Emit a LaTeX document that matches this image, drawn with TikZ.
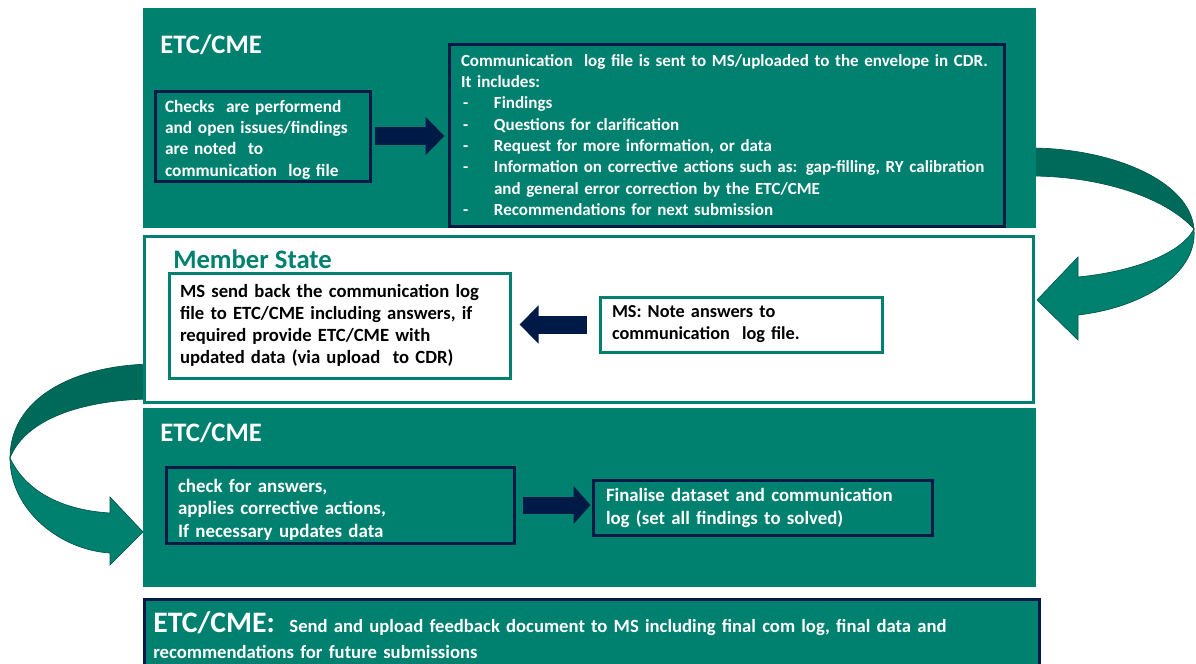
\documentclass[tikz,border=0pt]{standalone}
\usepackage{fontspec}
\setmainfont{Carlito}
\usetikzlibrary{arrows.meta}
\definecolor{teal1}{RGB}{0,128,111}
\definecolor{tealdark}{RGB}{0,106,90}
\definecolor{tealedge}{RGB}{0,86,72}
\definecolor{navy1}{RGB}{0,26,72}
\newcommand\bul{\makebox[24.75pt][l]{\hspace{1.5pt}-}}
\begin{document}
\begin{tikzpicture}[x=0.75pt,y=-0.75pt,
  panel/.style={draw=none, fill=teal1, inner sep=0pt, anchor=north west},
  tealbox/.style={draw=navy1, line width=2.25pt, fill=teal1, text=white, align=left, inner sep=0pt, anchor=center},
  whitebox/.style={draw=teal1, line width=2.25pt, fill=white, text=black, align=left, inner sep=0pt, anchor=center},
  title/.style={inner sep=0pt, anchor=base west, font=\fontsize{20}{24}\selectfont\bfseries},
  blockarrow/.style={draw=navy1, line width=13.5pt, -{Triangle[length=14.25pt,width=27.75pt]}},
  ribbonback/.style={fill=tealdark, draw=tealedge, line width=0.5pt},
  ribbonfront/.style={fill=teal1, draw=tealedge, line width=0.5pt}]
\useasboundingbox (0,0) rectangle (1196,664);
\clip (0,0) rectangle (1196,664);

% curved ribbon arrows (behind the panels)
\draw[ribbonback] (1030,148) .. controls (1110,148) and (1190,180) .. (1194,229)
  .. controls (1165,197) and (1100,176) .. (1030,176) -- cycle;
\draw[ribbonfront] (1194,229) .. controls (1198,275) and (1140,308) .. (1078,315)
  -- (1078,340) -- (1037,300) -- (1078,257) -- (1078,277)
  .. controls (1130,272) and (1180,255) .. (1194,229) -- cycle;
\draw[ribbonback] (150,364) .. controls (70,366) and (10,400) .. (10,458)
  .. controls (25,420) and (80,400) .. (150,399) -- cycle;
\draw[ribbonfront] (10,458) .. controls (10,510) and (60,550) .. (110,553)
  -- (110,565) -- (143,532) -- (110,497) -- (110,513)
  .. controls (60,510) and (25,490) .. (10,458) -- cycle;

% panels
\node[panel, minimum width=669.75pt, minimum height=165pt] (p1) at (143,8) {};
\node[panel, fill=white, draw=teal1, line width=2pt, minimum width=666.75pt, minimum height=124.5pt] (p2) at (143,235) {};
\node[panel, minimum width=669.75pt, minimum height=134.25pt] (p3) at (143,408) {};
\node[panel, draw=navy1, line width=2.25pt, minimum width=671.25pt, minimum height=60pt] (p4) at (143,598) {};

% titles
\node[title, text=white] (t1) at (160,53) {ETC/CME};
\node[title, text=teal1] (t2) at (173,268) {Member State};
\node[title, text=white] (t3) at (160,441) {ETC/CME};

% boxes
\node[tealbox, minimum width=161.25pt, minimum height=67.5pt, text width=146.25pt,
  font=\fontsize{13}{16}\selectfont\bfseries] (b1) at (262.5,136)
  {\rule{0pt}{14.5pt}Checks~ are performend\\and open issues/findings\\are noted~ to\\communication~ log file};
\node[tealbox, minimum width=416.25pt, minimum height=136.5pt, text width=398.25pt,
  font=\fontsize{12.75}{16}\selectfont\bfseries] (b2) at (726.5,135)
  {\mbox{Communication~ log file is sent to MS/uploaded to the envelope in CDR.}\\
   It includes:\\
   \bul Findings\\
   \bul Questions for clarification\\
   \bul Request for more information, or data\\
   \mbox{\bul Information on corrective actions such as: gap-filling, RY calibration}\\
   \hspace*{24.75pt}and general error correction by the ETC/CME\\
   \bul Recommendations for next submission};
\node[whitebox, minimum width=255.75pt, minimum height=78.75pt, text width=239.25pt,
  font=\fontsize{14}{16.5}\selectfont\bfseries] (b3) at (339.5,325.5)
  {MS send back the communication log\\file to ETC/CME including answers, if\\required provide ETC/CME with\\updated data (via upload~ to CDR)};
\node[whitebox, minimum width=211.5pt, minimum height=41.25pt, text width=193.5pt,
  font=\fontsize{13.7}{16.5}\selectfont\bfseries] (b4) at (741,324.5)
  {MS: Note answers to\\communication~ log file.};
\node[tealbox, minimum width=261pt, minimum height=57pt, text width=243pt,
  font=\fontsize{14.2}{16.9}\selectfont\bfseries] (b5) at (340,505)
  {\rule{0pt}{17pt}check for answers,\\applies corrective actions,\\If necessary updates data};
\node[tealbox, minimum width=254.25pt, minimum height=41.25pt, text width=234.75pt,
  font=\fontsize{14.1}{17.25}\selectfont\bfseries] (b6) at (762.5,507.5)
  {Finalise dataset and communication\\log (set all findings to solved)};

% bottom text
\node[inner sep=0pt, anchor=north west, text=white, text width=660pt, align=left,
  font=\fontsize{14}{19.5}\selectfont\bfseries] (t4) at (153,611)
  {{\fontsize{22.3}{22.3}\selectfont ETC/CME:}\hspace{11pt}\mbox{Send and upload feedback document to MS including final com log, final data and}\\
   recommendations for future submissions};

% block arrows
\draw[blockarrow, shorten <=2.25pt, shorten >=2.25pt] (b1.east) -- (b1.east -| b2.west);
\draw[blockarrow, shorten <=9pt, shorten >=6pt] (b4.west) -- (b4.west -| b3.east);
\draw[blockarrow, -{Triangle[length=12.75pt,width=27.75pt]}, line width=12.75pt, shorten <=5.25pt, shorten >=0.75pt] (b5.east) -- (b5.east -| b6.west);
\end{tikzpicture}
\end{document}
